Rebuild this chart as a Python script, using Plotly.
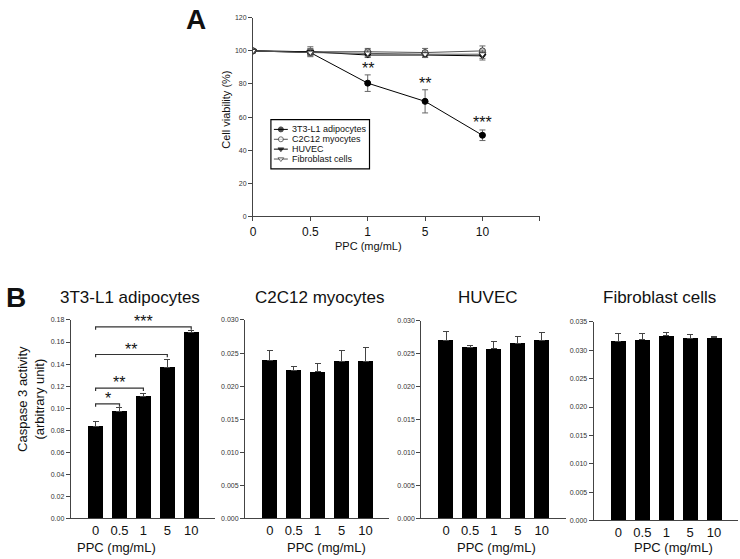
import plotly.graph_objects as go

FONT = "Liberation Sans, Arial, sans-serif"
W, H = 740, 559

# ---------------- Panel A data ----------------
doses = ["0", "0.5", "1", "5", "10"]
a_3t3 = [100, 99, 80.5, 69.5, 49]
a_3t3_err = [0, 1.5, 5, 7, 3.2]
a_c2c12 = [100, 99.5, 99.5, 99, 100]
a_c2c12_err = [0, 3, 2, 2.5, 3]
a_huvec = [100, 99.5, 97.5, 97.5, 97]
a_huvec_err = [0, 2, 1.5, 1.5, 2.5]
a_fibro = [100, 99, 98.5, 98, 98]
a_fibro_err = [0, 2, 2, 2, 2.5]
a_stars = ["", "", "**", "**", "***"]
a_star_y = [None, None, 89.5, 80.5, 56.5]
a_yticks = [0, 20, 40, 60, 80, 100, 120]

# ---------------- Panel B data ----------------
b_titles = ["3T3-L1 adipocytes", "C2C12 myocytes", "HUVEC", "Fibroblast cells"]
b_3t3 = [0.0837, 0.0971, 0.1108, 0.1370, 0.1690]
b_3t3_err = [0.0039, 0.0031, 0.0027, 0.0068, 0.0012]
b_c2c12 = [0.0239, 0.0224, 0.0222, 0.0238, 0.0238]
b_c2c12_err = [0.0015, 0.0006, 0.0012, 0.0016, 0.0020]
b_huvec = [0.0271, 0.0260, 0.0258, 0.0266, 0.0271]
b_huvec_err = [0.0013, 0.0003, 0.0011, 0.0011, 0.0011]
b_fibro = [0.0316, 0.0319, 0.0326, 0.0321, 0.0322]
b_fibro_err = [0.0013, 0.0011, 0.0006, 0.0007, 0.0003]
b_ymax = [0.18, 0.030, 0.030, 0.035]
b_ystep = [0.02, 0.005, 0.005, 0.005]
b_yfmt = [".2f", ".3f", ".3f", ".3f"]
# significance brackets (3T3-L1): from dose 0 to dose index
br_end = [1, 2, 3, 4]
br_level = [0.1039, 0.1182, 0.1487, 0.1737]
br_label = ["*", "**", "**", "***"]

fig = go.Figure()

# ---------- Panel A traces ----------
pos = list(range(len(doses)))
series = [
    ("3T3-L1 adipocytes", a_3t3, a_3t3_err, "circle", "black", "black", "black"),
    ("C2C12 myocytes", a_c2c12, a_c2c12_err, "circle", "#555555", "white", "#333333"),
    ("HUVEC", a_huvec, a_huvec_err, "triangle-down", "black", "black", "black"),
    ("Fibroblast cells", a_fibro, a_fibro_err, "triangle-down", "#555555", "white", "#333333"),
]
for name, ys, es, sym, lc, fill, edge in series:
    fig.add_trace(go.Scatter(
        x=pos, y=ys, name=name, mode="lines+markers",
        line=dict(color=lc, width=1),
        marker=dict(symbol=sym, size=6, color=fill, line=dict(color=edge, width=1)),
        error_y=dict(type="data", array=es, color="#666666", thickness=1, width=3),
        xaxis="x", yaxis="y", showlegend=False,
    ))

for i, s in enumerate(a_stars):
    if s:
        fig.add_annotation(x=pos[i], y=a_star_y[i], text=s, xref="x", yref="y",
                           showarrow=False, xanchor="center", yanchor="middle",
                           font=dict(family=FONT, size=16, color="#111"))

# ---------- custom compact legend (own small axis, pixel-like units) ----------
leg_rows = [10, 20, 30, 40]
for (name, ys, es, sym, lc, fill, edge), ry in zip(series, leg_rows):
    fig.add_trace(go.Scatter(
        x=[3, 10, 17], y=[ry, ry, ry], mode="lines+markers",
        line=dict(color=lc, width=1),
        marker=dict(symbol=sym, size=[0, 5, 0], color=fill, line=dict(color=edge, width=1)),
        xaxis="x6", yaxis="y6", showlegend=False, hoverinfo="skip",
    ))
    fig.add_annotation(x=19, y=ry, text=name, xref="x6", yref="y6", showarrow=False,
                       xanchor="left", yanchor="middle",
                       font=dict(family=FONT, size=9, color="#111"))

# ---------- Panel B traces ----------
b_vals = [b_3t3, b_c2c12, b_huvec, b_fibro]
b_errs = [b_3t3_err, b_c2c12_err, b_huvec_err, b_fibro_err]
for k in range(4):
    ax = str(k + 2)
    fig.add_trace(go.Bar(
        x=pos, y=b_vals[k], width=0.62, marker=dict(color="black", line=dict(width=0)),
        error_y=dict(type="data", symmetric=False, array=b_errs[k],
                     arrayminus=[0] * len(b_errs[k]), color="#444444", thickness=1, width=3),
        xaxis="x" + ax, yaxis="y" + ax, showlegend=False,
    ))

# brackets
d = 0.0025
for e, lv, lab in zip(br_end, br_level, br_label):
    x0, x1 = pos[0], pos[e]
    fig.add_shape(type="path", xref="x2", yref="y2",
                  path=f"M {x0},{lv - d} L {x0},{lv} L {x1},{lv} L {x1},{lv - d}",
                  line=dict(color="#333333", width=1.2))
    fig.add_annotation(x=(x0 + x1) / 2, y=lv, text=lab, xref="x2", yref="y2",
                       showarrow=False, xanchor="center", yanchor="bottom", yshift=-5,
                       font=dict(family=FONT, size=16, color="#111"))

# ---------- layout ----------
def px_x(p):
    return p / W

def px_y(p):
    return 1 - p / H

layout = dict(
    width=W, height=H, margin=dict(l=0, r=0, t=0, b=0),
    paper_bgcolor="white", plot_bgcolor="white",
    font=dict(family=FONT, color="#222"),
    bargap=0, showlegend=False,
)

layout["xaxis"] = dict(
    domain=[px_x(251), px_x(539)], anchor="y", range=[0, 5],
    tickvals=pos + [5], ticktext=doses + [""], showline=True, linecolor="#444",
    linewidth=1, ticks="outside", ticklen=4, tickcolor="#444", showgrid=False,
    zeroline=False, tickfont=dict(size=12, color="#111"),
)
layout["yaxis"] = dict(
    domain=[px_y(215), px_y(14)], anchor="x", range=[0, 120],
    tickvals=a_yticks, showline=True, linecolor="#444", linewidth=1,
    ticks="outside", ticklen=4, tickcolor="#444", showgrid=False, zeroline=False,
    tickfont=dict(size=7, color="#333"),
)
# legend box axes
layout["xaxis6"] = dict(domain=[px_x(269), px_x(368)], anchor="y6", range=[0, 99],
                        visible=False, fixedrange=True)
layout["yaxis6"] = dict(domain=[px_y(167), px_y(117)], anchor="x6", range=[50, 0],
                        visible=False, fixedrange=True)

b_x = [(68, 213), (243, 388), (420, 565), (593, 738)]
b_y = [(521, 320), (521, 320), (521, 321), (523, 322)]
for k in range(4):
    ax = str(k + 2)
    n = int(round(b_ymax[k] / b_ystep[k]))
    tv = [round(i * b_ystep[k], 4) for i in range(n + 1)]
    layout["xaxis" + ax] = dict(
        domain=[px_x(b_x[k][0]), px_x(b_x[k][1])], anchor="y" + ax,
        range=[-1.04, 5], tickvals=pos, ticktext=doses, showline=True,
        linecolor="#444", linewidth=1, ticks="", showgrid=False, zeroline=False,
        tickfont=dict(size=13, color="#111"),
    )
    layout["yaxis" + ax] = dict(
        domain=[px_y(b_y[k][0]), px_y(b_y[k][1])], anchor="x" + ax,
        range=[0, b_ymax[k]], tickvals=tv, ticktext=[format(v, b_yfmt[k]) for v in tv],
        showline=True, linecolor="#444", linewidth=1, ticks="outside", ticklen=4,
        tickcolor="#444", showgrid=False, zeroline=False,
        tickfont=dict(size=7, color="#333"),
    )

fig.update_layout(**layout)

# legend frame
fig.add_shape(type="rect", xref="paper", yref="paper",
              x0=px_x(269), x1=px_x(368), y0=px_y(167), y1=px_y(117),
              line=dict(color="black", width=1.2), fillcolor="rgba(0,0,0,0)", layer="above")

def note(xp, yp, text, size, angle=0):
    fig.add_annotation(x=px_x(xp), y=px_y(yp), xref="paper", yref="paper", text=text,
                       textangle=angle, showarrow=False, xanchor="center",
                       yanchor="middle", font=dict(family=FONT, size=size, color="#111"))

# Panel letters & titles
note(194, 16, "<b>A</b>", 28)
note(13, 297, "<b>B</b>", 28)
note(224, 107, "Cell viability (%)", 11, -90)
note(367, 245, "PPC (mg/mL)", 11)
note(28, 400, "Caspase 3 activity<br>(arbitrary unit)", 13, -90)

title_cx = [128, 318, 487, 659]
xtitle_cx = [114, 325, 496, 673]
for k in range(4):
    note(title_cx[k], 297, b_titles[k], 17)
    note(xtitle_cx[k], 550, "PPC (mg/mL)", 13)

fig.write_html("out.html", config={"displayModeBar": False},
               post_script="document.body.style.margin='0';")
